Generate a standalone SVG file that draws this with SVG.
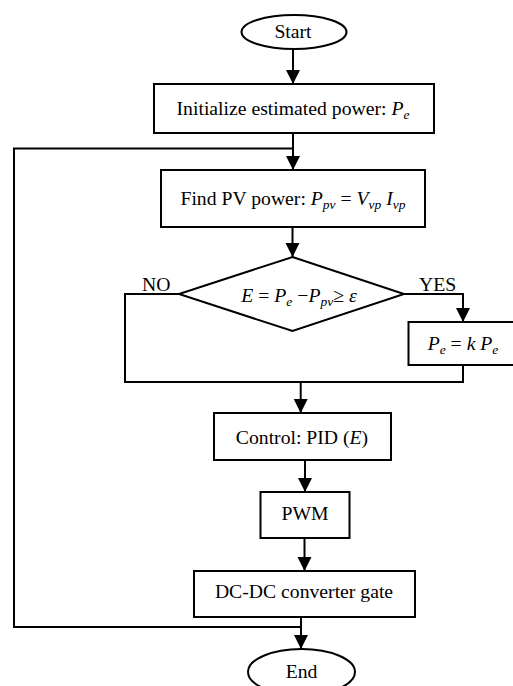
<svg xmlns="http://www.w3.org/2000/svg" width="513" height="686" viewBox="0 0 513 686">
<style>
.s{fill:#fff;stroke:#000;stroke-width:2}
text{font-size:19.7px;fill:#000}
.i{font-style:italic}
.sub{font-style:italic;font-size:13.5px}
.c{fill:none;stroke:#000;stroke-width:2}
</style>
<defs>
<marker id="ah" markerUnits="userSpaceOnUse" markerWidth="14" markerHeight="16" refX="14" refY="7" orient="auto">
<path d="M0,0 L14,7 L0,14 Z" fill="#000"/>
</marker>
</defs>
<rect width="513" height="686" fill="#fff"/>
<g font-family="Liberation Serif, Times New Roman, Times, serif">
<g id="connectors">
<line class="c" x1="293" y1="49" x2="293" y2="84" marker-end="url(#ah)"/>
<line class="c" x1="293" y1="133" x2="293" y2="170" marker-end="url(#ah)"/>
<polyline class="c" points="301,627 14,627 14,148.5 293,148.5"/>
<line class="c" x1="292.5" y1="227" x2="292.5" y2="257" marker-end="url(#ah)"/>
<polyline class="c" points="404,294 463,294 463,322" marker-end="url(#ah)"/>
<polyline class="c" points="179,294 125,294 125,382 463,382 463,365"/>
<line class="c" x1="300.7" y1="382" x2="300.7" y2="413" marker-end="url(#ah)"/>
<line class="c" x1="305" y1="460" x2="305" y2="492" marker-end="url(#ah)"/>
<line class="c" x1="304.5" y1="538" x2="304.5" y2="571" marker-end="url(#ah)"/>
<line class="c" x1="301" y1="617" x2="301" y2="649" marker-end="url(#ah)"/>
<text x="142" y="291">NO</text>
<text x="419" y="291">YES</text>
</g>
<g id="start">
<ellipse class="s" cx="294" cy="32" rx="52.5" ry="17"/>
<text x="293" y="38" text-anchor="middle">Start</text>
</g>
<g id="init">
<rect class="s" x="154" y="84" width="280" height="49"/>
<text x="293" y="115" text-anchor="middle">Initialize estimated power: <tspan class="i">P</tspan><tspan class="sub" dy="4">e</tspan></text>
</g>
<g id="findpv">
<rect class="s" x="161" y="170" width="264" height="57"/>
<text x="293" y="205" text-anchor="middle">Find PV power: <tspan class="i">P</tspan><tspan class="sub" dy="4">pv</tspan><tspan dy="-4"> = </tspan><tspan class="i">V</tspan><tspan class="sub" dy="4">vp</tspan><tspan dy="-4"> </tspan><tspan class="i">I</tspan><tspan class="sub" dy="4">vp</tspan></text>
</g>
<g id="decision">
<polygon class="s" points="292.5,257 404,294 292.5,331 179,294"/>
<text x="299" y="302" text-anchor="middle"><tspan class="i">E</tspan> = <tspan class="i">P</tspan><tspan class="sub" dy="4">e</tspan><tspan dy="-4"> −</tspan><tspan class="i">P</tspan><tspan class="sub" dy="4">pv</tspan><tspan dy="-4">≥ </tspan><tspan class="i">ε</tspan></text>
</g>
<g id="update">
<rect class="s" x="408.5" y="322" width="110" height="43"/>
<text x="463" y="350" text-anchor="middle"><tspan class="i">P</tspan><tspan class="sub" dy="4">e</tspan><tspan dy="-4"> = </tspan><tspan class="i">k P</tspan><tspan class="sub" dy="4">e</tspan></text>
</g>
<g id="control">
<rect class="s" x="214" y="413" width="177" height="47"/>
<text x="302" y="444" text-anchor="middle">Control: PID (<tspan class="i">E</tspan>)</text>
</g>
<g id="pwm">
<rect class="s" x="260.5" y="492" width="89" height="46"/>
<text x="305" y="520" text-anchor="middle">PWM</text>
</g>
<g id="dcdc">
<rect class="s" x="194" y="571" width="221" height="46"/>
<text x="304" y="598" text-anchor="middle">DC-DC converter gate</text>
</g>
<g id="end">
<ellipse class="s" cx="301.5" cy="672" rx="53.5" ry="23"/>
<text x="301.5" y="678" text-anchor="middle">End</text>
</g>
</g>
</svg>
